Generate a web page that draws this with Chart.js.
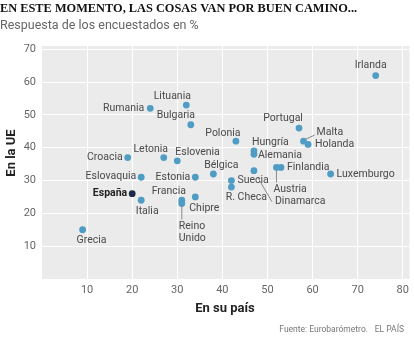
<!DOCTYPE html>
<html>
<head>
<meta charset="utf-8">
<script src="https://cdn.jsdelivr.net/npm/chart.js@4/dist/chart.umd.min.js"></script>
<style>
  html, body { margin: 0; padding: 0; background: #fff; }
  #wrap { width: 414px; height: 354px; }
</style>
</head>
<body>
<div id="wrap"><canvas id="chart" width="414" height="354"></canvas></div>
<script>
// datos (% de encuestados)
const countries = [
    'Irlanda', 'Lituania', 'Rumania', 'Bulgaria', 'Portugal', 'Polonia', 'Malta',
    'Holanda', 'Hungría', 'Alemania', 'Croacia', 'Letonia', 'Eslovenia', 'Bélgica',
    'Dinamarca', 'Austria', 'Finlandia', 'Luxemburgo', 'Eslovaquia', 'Estonia',
    'Suecia', 'R. Checa', 'España', 'Italia', 'Francia', 'Reino Unido', 'Chipre', 'Grecia'
];
const enSuPais = [74, 32, 24, 33, 57, 43, 58, 59, 47, 47, 19, 27, 30, 38, 47, 52, 53, 64, 22, 34, 42, 42, 20, 22, 31, 31, 34, 9];
const enLaUE = [62, 53, 52, 47, 46, 42, 42, 41, 39, 38, 37, 37, 36, 32, 33, 34, 34, 32, 31, 31, 30, 28, 26, 24, 24, 23, 25, 15];
const xTicks = [10, 20, 30, 40, 50, 60, 70, 80];
const yTicks = [10, 20, 30, 40, 50, 60, 70];
const highlight = 'España';

const TITLE = 'EN ESTE MOMENTO, LAS COSAS VAN POR BUEN CAMINO...';
const SUBTITLE = 'Respuesta de los encuestados en %';
const X_TITLE = 'En su país';
const Y_TITLE = 'En la UE';
const SOURCE = 'Fuente: Eurobarómetro.';
const BRAND = 'EL PAÍS';

const BLUE = '#4f9dc4';
const NAVY = '#1e2a4a';
const FONT = 'Roboto, "Noto Sans", sans-serif';

// colocación de las etiquetas (px respecto al punto)
const labelPos = {
    'Irlanda': { dx: -5, dy: -10, align: 'center' },
    'Lituania': { dx: -14, dy: -9, align: 'center' },
    'Rumania': { dx: -6, dy: 0, align: 'right' },
    'Bulgaria': { dx: -15, dy: -9, align: 'center' },
    'Portugal': { dx: -16, dy: -10, align: 'center' },
    'Polonia': { dx: -13, dy: -8, align: 'center' },
    'Malta': { dx: 13, dy: -9, align: 'left', leader: [[2, -2], [11, -6]] },
    'Holanda': { dx: 7, dy: 0, align: 'left' },
    'Hungría': { dx: -2, dy: -9, align: 'left' },
    'Alemania': { dx: 4, dy: 1, align: 'left' },
    'Croacia': { dx: -5, dy: 0, align: 'right' },
    'Letonia': { dx: -13, dy: -8, align: 'center' },
    'Eslovenia': { dx: -2, dy: -8, align: 'left' },
    'Bélgica': { dx: 8, dy: -9, align: 'center' },
    'Dinamarca': { dx: 21, dy: 31, align: 'left', leader: [[4, 7], [18, 31]] },
    'Austria': { dx: -3, dy: 22, align: 'left', leader: [[0, 3], [0, 15]] },
    'Finlandia': { dx: 6, dy: 0, align: 'left' },
    'Luxemburgo': { dx: 6, dy: 0, align: 'left' },
    'Eslovaquia': { dx: -5, dy: -1, align: 'right' },
    'Estonia': { dx: -5, dy: 0, align: 'right' },
    'Suecia': { dx: 6, dy: 0, align: 'left' },
    'R. Checa': { dx: 15, dy: 10, align: 'center' },
    'España': { dx: -5, dy: 0, align: 'right' },
    'Italia': { dx: 6, dy: 11, align: 'center' },
    'Francia': { dx: -13, dy: -9, align: 'center' },
    'Reino Unido': { dx: -3, dy: 23, align: 'left', lines: ['Reino', 'Unido'], leader: [[0, 3], [0, 16]] },
    'Chipre': { dx: 9, dy: 11, align: 'center' },
    'Grecia': { dx: 9, dy: 11, align: 'center' }
};

const points = countries.map((c, i) => ({ x: enSuPais[i], y: enLaUE[i], label: c }));

const decor = {
    id: 'decor',
    beforeDraw(chart) {
        const { ctx, chartArea: a } = chart;
        ctx.save();
        ctx.fillStyle = '#ebebeb';
        ctx.fillRect(a.left, a.top, a.right - a.left, a.bottom - a.top);
        ctx.restore();
    },
    afterDatasetsDraw(chart) {
        const ctx = chart.ctx;
        const meta = chart.getDatasetMeta(0);
        ctx.save();
        ctx.textBaseline = 'middle';
        meta.data.forEach((el, i) => {
            const name = countries[i];
            const p = labelPos[name] || { dx: 6, dy: 0, align: 'left' };
            if (p.leader) {
                ctx.strokeStyle = '#8a8a8a';
                ctx.lineWidth = 1;
                ctx.beginPath();
                ctx.moveTo(el.x + p.leader[0][0], el.y + p.leader[0][1]);
                ctx.lineTo(el.x + p.leader[1][0], el.y + p.leader[1][1]);
                ctx.stroke();
            }
            const bold = name === highlight;
            ctx.font = (bold ? 'bold ' : '') + '10.5px ' + FONT;
            ctx.fillStyle = bold ? '#222' : '#4a4a4a';
            ctx.textAlign = p.align;
            const lines = p.lines || [name];
            lines.forEach((t, k) => ctx.fillText(t, el.x + p.dx, el.y + p.dy + k * 12));
        });
        ctx.restore();
    },
    afterDraw(chart) {
        const { ctx } = chart;
        ctx.save();
        ctx.textBaseline = 'middle';
        ctx.textAlign = 'left';
        ctx.fillStyle = '#111';
        ctx.font = 'bold 13.5px "Liberation Serif", serif';
        // el titular original es una serif estrecha
        ctx.save();
        ctx.scale(0.915, 1);
        ctx.fillText(TITLE, 0, 9);
        ctx.restore();
        ctx.fillStyle = '#666';
        ctx.font = '12.5px ' + FONT;
        ctx.fillText(SUBTITLE, 0, 26);

        ctx.fillStyle = '#222';
        ctx.font = 'bold 13px ' + FONT;
        ctx.textAlign = 'center';
        ctx.fillText(X_TITLE, 225, 309);
        ctx.save();
        ctx.translate(12, 153);
        ctx.rotate(-Math.PI / 2);
        ctx.fillText(Y_TITLE, 0, 0);
        ctx.restore();

        ctx.fillStyle = '#777';
        ctx.font = '8.5px ' + FONT;
        ctx.textAlign = 'right';
        ctx.fillText(SOURCE, 368, 330);
        ctx.fillText(BRAND, 404, 330);
        ctx.restore();
    }
};

new Chart(document.getElementById('chart'), {
    type: 'scatter',
    data: {
        datasets: [{
            data: points,
            pointRadius: 3.4,
            pointHoverRadius: 3.4,
            pointBorderWidth: 0,
            backgroundColor: countries.map(c => c === highlight ? NAVY : BLUE)
        }]
    },
    options: {
        responsive: false,
        animation: false,
        layout: { padding: { top: 46, left: 0, right: 4, bottom: 0 } },
        plugins: {
            legend: { display: false },
            tooltip: { enabled: false },
            title: { display: false }
        },
        scales: {
            x: {
                min: 0,
                max: 81.5,
                afterFit: (s) => { s.height = 75; },
                afterBuildTicks: (s) => { s.ticks = xTicks.map(v => ({ value: v })); },
                grid: { color: '#ffffff', lineWidth: 1, drawTicks: false },
                border: { display: false },
                ticks: { padding: 5, color: '#666', font: { family: FONT, size: 11 } }
            },
            y: {
                min: 0,
                max: 71,
                afterFit: (s) => { s.width = 42; },
                afterBuildTicks: (s) => { s.ticks = yTicks.map(v => ({ value: v })); },
                grid: { color: '#ffffff', lineWidth: 1, drawTicks: false },
                border: { display: false },
                ticks: { padding: 6, color: '#666', font: { family: FONT, size: 11 } }
            }
        }
    },
    plugins: [decor]
});
</script>
</body>
</html>
